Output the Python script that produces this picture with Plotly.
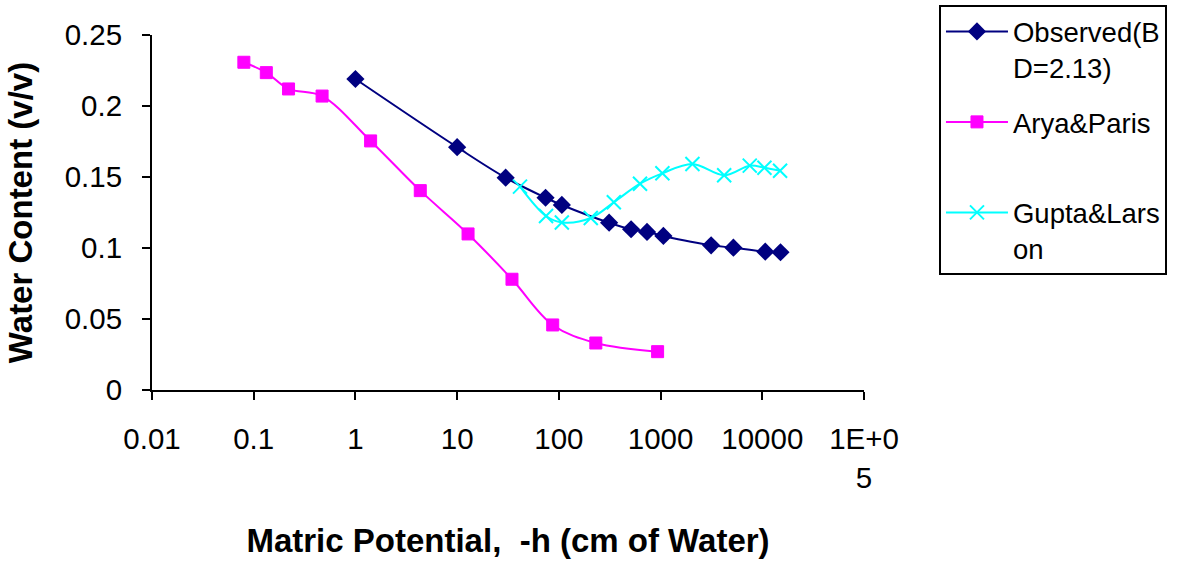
import plotly.graph_objects as go

# ---- data ----
obs_h = [1, 10, 30, 74, 107, 312, 513, 736, 1066, 3140, 5200, 10700, 15100]
obs_theta = [0.219, 0.171, 0.1495, 0.1354, 0.1303, 0.1178, 0.1132, 0.1113,
             0.1085, 0.1019, 0.1002, 0.0974, 0.097]

arya_h = [0.08, 0.133, 0.22, 0.47, 1.41, 4.34, 12.8, 34.6, 87, 231, 935]
arya_theta = [0.2308, 0.2235, 0.212, 0.207, 0.1754, 0.1404, 0.1099, 0.078,
              0.0458, 0.0331, 0.027]

gupta_h = [41.5, 74.8, 107, 206, 347, 628, 1042, 2057, 4220, 7530, 10500, 14960]
gupta_theta = [0.1432, 0.1225, 0.118, 0.1211, 0.1322, 0.1453, 0.1526, 0.1592,
               0.1512, 0.158, 0.1565, 0.1544]

x_tickvals = [0.01, 0.1, 1, 10, 100, 1000, 10000, 100000]
x_ticktext = ["0.01", "0.1", "1", "10", "100", "1000", "10000", "1E+0<br>5"]
y_tickvals = [0, 0.05, 0.1, 0.15, 0.2, 0.25]
y_ticktext = ["0", "0.05", "0.1", "0.15", "0.2", "0.25"]

FONT = "Liberation Sans, Arial, sans-serif"

fig = go.Figure()
fig.add_trace(go.Scatter(
    x=obs_h, y=obs_theta, name="Observed(B<br>D=2.13)", mode="lines+markers",
    line=dict(color="#000080", width=2, shape="spline"),
    marker=dict(symbol="diamond", size=14, color="#000080"),
    legendgroup="a"))
fig.add_trace(go.Scatter(
    x=arya_h, y=arya_theta, name="Arya&Paris<br> ", mode="lines+markers",
    line=dict(color="#FF00FF", width=2, shape="spline"),
    marker=dict(symbol="square", size=12, color="#FF00FF",
                line=dict(color="#FF00FF", width=1)),
    legendgroup="b"))
fig.add_trace(go.Scatter(
    x=gupta_h, y=gupta_theta, name="Gupta&Lars<br>on", mode="lines+markers",
    line=dict(color="#00FFFF", width=2, shape="spline"),
    marker=dict(symbol="x-thin", size=14, color="#00FFFF",
                line=dict(color="#00FFFF", width=2)),
    legendgroup="c"))

fig.update_layout(
    width=1178, height=568,
    margin=dict(l=152, r=314, t=35, b=178, autoexpand=False),
    paper_bgcolor="white", plot_bgcolor="white",
    font=dict(family=FONT, color="black", size=29),
    showlegend=True,
    legend=dict(x=1.1053, y=1.0845, xanchor="left", yanchor="top",
                bordercolor="black", borderwidth=2,
                font=dict(size=27.5, family=FONT, color="black"),
                tracegroupgap=16, valign="top", itemwidth=62),
    xaxis=dict(type="log", range=[-2, 5], tickvals=x_tickvals,
               ticktext=x_ticktext, showgrid=False, zeroline=False,
               showline=True, linecolor="black", linewidth=2,
               ticks="outside", ticklen=8, tickwidth=2, tickcolor="black",
               ticklabelstandoff=14,
               tickfont=dict(size=29.5, family=FONT, color="black"),
               title=dict(text="Matric Potential,\u00a0 -h (cm of Water)",
                          font=dict(size=33, family=FONT, color="black",
                                    weight="bold"),
                          standoff=36)),
    yaxis=dict(range=[0, 0.25], tickvals=y_tickvals, ticktext=y_ticktext,
               showgrid=False, zeroline=False,
               showline=True, linecolor="black", linewidth=2,
               ticks="outside", ticklen=8, tickwidth=2, tickcolor="black",
               ticklabelstandoff=14,
               tickfont=dict(size=29.5, family=FONT, color="black"),
               title=dict(text="Water Content (v/v)",
                          font=dict(size=33, family=FONT, color="black",
                                    weight="bold"),
                          standoff=22)),
)

fig.write_html("out.html", config={"displayModeBar": False},
               post_script="document.body.style.margin='0px';")
